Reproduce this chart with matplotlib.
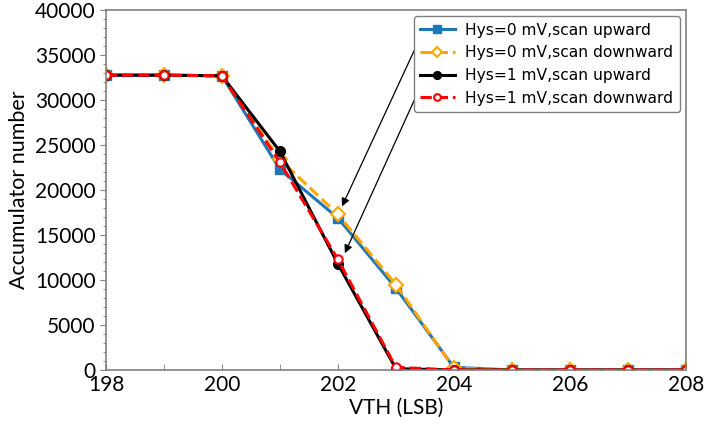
import matplotlib
matplotlib.use("Agg")
import matplotlib.pyplot as plt
from matplotlib.ticker import MultipleLocator

vth = [198, 199, 200, 201, 202, 203, 204, 205, 206, 207, 208]
hys0_up = [32768, 32768, 32700, 22300, 16900, 9100, 300, 0, 0, 0, 0]
hys0_down = [32768, 32768, 32700, 23400, 17300, 9500, 200, 0, 0, 0, 0]
hys1_up = [32768, 32768, 32700, 24300, 11800, 150, 0, 0, 0, 0, 0]
hys1_down = [32768, 32768, 32700, 23100, 12300, 300, 0, 0, 0, 0, 0]

labels = [
    "Hys=0 mV,scan upward",
    "Hys=0 mV,scan downward",
    "Hys=1 mV,scan upward",
    "Hys=1 mV,scan downward",
]

tick_font = "Lato"

fig = plt.figure(figsize=(7.06, 4.30), dpi=100)
ax = fig.add_axes([0.150, 0.1395, 0.8215, 0.837])

ax.plot(vth, hys0_up, color="#1f77b4", lw=2.2, marker="s", ms=7, label=labels[0])
ax.plot(vth, hys0_down, color="orange", lw=2.2, ls="--", marker="D", ms=7,
        mfc="white", mec="orange", mew=1.5, label=labels[1])
ax.plot(vth, hys1_up, color="black", lw=2.2, marker="o", ms=7, label=labels[2])
ax.plot(vth, hys1_down, color="red", lw=2.2, ls="--", marker="o", ms=6,
        mfc="white", mec="red", mew=1.5, label=labels[3])

ax.set_xlim(198, 208)
ax.set_ylim(0, 40000)
ax.xaxis.set_major_locator(MultipleLocator(2))
ax.xaxis.set_minor_locator(MultipleLocator(1))
ax.yaxis.set_major_locator(MultipleLocator(5000))
ax.yaxis.set_minor_locator(MultipleLocator(1000))
ax.tick_params(axis="x", which="both", direction="in", length=4, color="#808080")
ax.tick_params(axis="y", which="major", direction="out", length=4, color="#808080")
ax.tick_params(axis="y", which="minor", direction="out", length=2.5, color="#808080")
for s in ax.spines.values():
    s.set_color("#808080")
    s.set_linewidth(1.2)

for lab in ax.get_xticklabels() + ax.get_yticklabels():
    lab.set_fontfamily(tick_font)
    lab.set_fontsize(15)
ax.set_xlabel("VTH (LSB)", fontfamily=tick_font, fontsize=15, labelpad=2)
ax.set_ylabel("Accumulator number", fontfamily=tick_font, fontsize=15.5, labelpad=4)

leg = ax.legend(loc="upper right", fontsize=11.2, handlelength=2.2,
                handletextpad=0.7, borderaxespad=0.4, labelspacing=0.5,
                borderpad=0.4, markerscale=0.8, framealpha=1)
leg.get_frame().set_edgecolor("#808080")

ax.annotate("", xy=(202.05, 17900), xytext=(0.540, 0.917),
            textcoords="axes fraction",
            arrowprops=dict(arrowstyle="-|>", color="black", lw=0.9, mutation_scale=12))
ax.annotate("", xy=(202.1, 12700), xytext=(0.541, 0.783),
            textcoords="axes fraction",
            arrowprops=dict(arrowstyle="-|>", color="black", lw=0.9, mutation_scale=12))

fig.savefig("out.png", dpi=100)
